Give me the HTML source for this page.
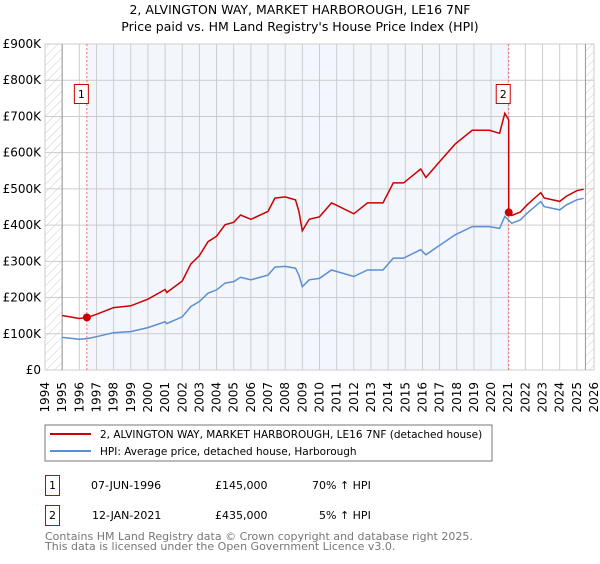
<!DOCTYPE html>
<html><head><meta charset="utf-8"><style>
body{margin:0;background:#fff;font-family:"DejaVu Sans","Liberation Sans",sans-serif;}
svg text{font-family:"DejaVu Sans","Liberation Sans",sans-serif;}
</style></head><body>
<svg id="c" width="600" height="560" xmlns="http://www.w3.org/2000/svg">
<defs><pattern id="hatch" width="6" height="6" patternUnits="userSpaceOnUse" patternTransform="rotate(45)"><line x1="0" y1="0" x2="0" y2="6" stroke="#ccc" stroke-width="1"/></pattern></defs>
<text x="300" y="14" text-anchor="middle" font-size="12.5">2, ALVINGTON WAY, MARKET HARBOROUGH, LE16 7NF</text>
<text x="300" y="31" text-anchor="middle" font-size="12.5">Price paid vs. HM Land Registry's House Price Index (HPI)</text>
<g id="plot"></g>
<rect x="45" y="425" width="447" height="36" fill="#fff" stroke="#777"/>
<line x1="50" y1="434" x2="91" y2="434" stroke="#cc0000" stroke-width="2"/>
<text x="100" y="438" font-size="10.5">2, ALVINGTON WAY, MARKET HARBOROUGH, LE16 7NF (detached house)</text>
<line x1="50" y1="451" x2="91" y2="451" stroke="#5b8fd4" stroke-width="2"/>
<text x="100" y="455" font-size="10.5">HPI: Average price, detached house, Harborough</text>
<rect x="45.5" y="475.5" width="14" height="20" fill="none" stroke="#cc0000"/>
<text x="52.5" y="489" font-size="11" text-anchor="middle">1</text>
<text x="91" y="489" font-size="11">07-JUN-1996</text>
<text x="215" y="489" font-size="11">£145,000</text>
<text x="312" y="489" font-size="11">70% ↑ HPI</text>
<rect x="45.5" y="505.5" width="14" height="20" fill="none" stroke="#cc0000"/>
<text x="52.5" y="519" font-size="11" text-anchor="middle">2</text>
<text x="92" y="519" font-size="11">12-JAN-2021</text>
<text x="215" y="519" font-size="11">£435,000</text>
<text x="319" y="519" font-size="11">5% ↑ HPI</text>
<text x="45" y="540" font-size="11" fill="#777">Contains HM Land Registry data © Crown copyright and database right 2025.</text>
<text x="45" y="550" font-size="11" fill="#777">This data is licensed under the Open Government Licence v3.0.</text>
</svg>
<script>
const hpiYears=[1995.0,1996.0,1996.5,1997.0,1998.0,1999.0,2000.0,2001.0,2001.1,2002.0,2002.5,2003.0,2003.5,2004.0,2004.5,2005.0,2005.4,2006.0,2007.0,2007.4,2008.0,2008.6,2008.8,2009.0,2009.4,2010.0,2010.7,2011.0,2012.0,2012.8,2013.7,2014.3,2014.9,2015.9,2016.2,2016.9,2017.9,2018.9,2019.9,2020.5,2020.8,2021.2,2021.7,2022.1,2022.9,2023.1,2024.0,2024.4,2025.0,2025.4];
const hpiValues=[90,85,87,92,103,106,117,133,128,147,175,189,212,221,240,244,256,249,262,284,286,281,262,230,249,253,276,272,258,276,276,309,309,332,318,341,373,396,396,391,424,405,414,433,465,451,442,456,470,474];
const sales=[{year:1996.44,price:145000,label:"1"},{year:2021.03,price:435000,label:"2"}];
const yTicks=[0,100,200,300,400,500,600,700,800,900];
const yTickLabels=["£0","£100K","£200K","£300K","£400K","£500K","£600K","£700K","£800K","£900K"];
const xYears=[1994,1995,1996,1997,1998,1999,2000,2001,2002,2003,2004,2005,2006,2007,2008,2009,2010,2011,2012,2013,2014,2015,2016,2017,2018,2019,2020,2021,2022,2023,2024,2025,2026];
const X0=45,X1=594,Y0=370,Y1=44;
function xs(y){return X0+(y-1994)/32*(X1-X0);}
function ys(v){return Y0-v/900*(Y0-Y1);}
function hpiAt(t){for(let i=0;i<hpiYears.length-1;i++){if(t<=hpiYears[i+1]){const f=(t-hpiYears[i])/(hpiYears[i+1]-hpiYears[i]);return hpiValues[i]+f*(hpiValues[i+1]-hpiValues[i]);}}return hpiValues[hpiValues.length-1];}
const NS="http://www.w3.org/2000/svg",g=document.getElementById('plot');
function mk(t,a){const e=document.createElementNS(NS,t);for(const k in a)e.setAttribute(k,a[k]);g.appendChild(e);return e;}
let e;
e=mk('rect',{x:X0,y:Y1,width:X1-X0,height:Y0-Y1,fill:'#fff',stroke:'#ccc'});


e=mk('rect',{x:xs(sales[0].year),y:Y1,width:xs(sales[1].year)-xs(sales[0].year),height:Y0-Y1,fill:'#f3f7fd'});


e=mk('rect',{x:X0,y:Y1,width:xs(1995)-X0,height:Y0-Y1,fill:'url(#hatch)'});


e=mk('rect',{x:xs(2025.5),y:Y1,width:X1-xs(2025.5),height:Y0-Y1,fill:'url(#hatch)'});


yTicks.forEach((v,i)=>{
 e=mk('line',{x1:X0,x2:X1,y1:ys(v),y2:ys(v),stroke:'#ccc'});
 
 
 e=mk('text',{x:X0-4,y:ys(v)+4,'text-anchor':'end','font-size':'12'});e.textContent=yTickLabels[i];
 
 
});
xYears.forEach(y=>{
 e=mk('line',{x1:xs(y),x2:xs(y),y1:Y1,y2:Y0,stroke:'#ccc'});
 
 
 e=mk('text',{x:0,y:0,'text-anchor':'end','font-size':'12',transform:`translate(${xs(y)+4},382) rotate(-90)`});e.textContent=y;
 
 
});
e=mk('line',{x1:xs(1995),x2:xs(1995),y1:Y1,y2:Y0,stroke:'#999'});


e=mk('line',{x1:xs(2025.5),x2:xs(2025.5),y1:Y1,y2:Y0,stroke:'#999'});


sales.forEach(s=>{
 e=mk('line',{x1:xs(s.year),x2:xs(s.year),y1:Y1,y2:Y0,stroke:'#f07070','stroke-dasharray':'2,2'});
 
 
});
let d='';hpiYears.forEach((t,i)=>{d+=(i?'L':'M')+xs(t).toFixed(1)+','+ys(hpiValues[i]).toFixed(1);});
e=mk('path',{d:d,fill:'none',stroke:'#5b8fd4','stroke-width':'1.5'});


const r1=sales[0].price/1000/hpiAt(sales[0].year),r2=sales[1].price/1000/hpiAt(sales[1].year);
let pd='',first=true;
const pts=hpiYears.filter(t=>t<sales[1].year).concat([sales[1].year]).concat(hpiYears.filter(t=>t>sales[1].year));
pts.forEach(t=>{
 if(t<=sales[1].year){const v=hpiAt(t)*r1;pd+=(first?'M':'L')+xs(t).toFixed(1)+','+ys(v).toFixed(1);first=false;}
 if(t>=sales[1].year){const v=hpiAt(t)*r2;pd+='L'+xs(t).toFixed(1)+','+ys(v).toFixed(1);}
});
e=mk('path',{d:pd,fill:'none',stroke:'#cc0000','stroke-width':'1.5'});


sales.forEach(s=>{
 e=mk('circle',{cx:xs(s.year),cy:ys(s.price/1000),r:4,fill:'#cc0000'});
 
 
 e=mk('rect',{x:xs(s.year)-12.5,y:84.5,width:14,height:19,fill:'#fff',stroke:'#cc0000'});
 
 
 e=mk('text',{x:xs(s.year)-5.5,y:98,'text-anchor':'middle','font-size':'11'});e.textContent=s.label;
 
 
});
</script>
</body></html>
